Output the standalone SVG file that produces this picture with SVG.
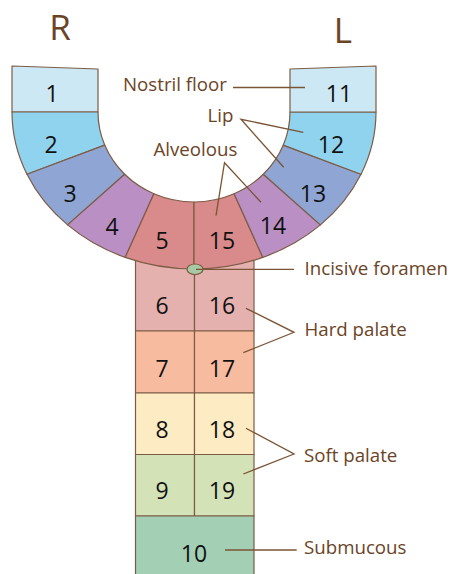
<svg xmlns="http://www.w3.org/2000/svg" width="453" height="574" viewBox="0 0 453 574">
<style>
.seg{stroke:#7d5c46;stroke-width:1.2;stroke-linejoin:round}
.num{font-family:"Open Sans","Liberation Sans",sans-serif;font-size:23px;fill:#111;text-anchor:middle}
.lbl{font-family:"Open Sans","Liberation Sans",sans-serif;font-size:18.7px;fill:#6b4426}
.side{font-family:"Open Sans","Liberation Sans",sans-serif;font-size:35px;fill:#6b4426;text-anchor:middle}
.lead{stroke:#7a5535;stroke-width:1.3;fill:none}
</style>
<rect width="453" height="574" fill="#fff"/>
<text class="side" x="60" y="40">R</text>
<text class="side" x="343" y="43">L</text>

<g id="n6"><rect class="seg" x="135.5" y="250" width="59" height="81" fill="#e5b1ae"/><text class="num" x="162" y="314">6</text></g>
<g id="n16"><rect class="seg" x="194.5" y="250" width="59.5" height="81" fill="#e5b1ae"/><text class="num" x="222" y="314">16</text></g>
<g id="n7"><rect class="seg" x="135.5" y="331" width="59" height="62" fill="#f7bba0"/><text class="num" x="162" y="377">7</text></g>
<g id="n17"><rect class="seg" x="194.5" y="331" width="59.5" height="62" fill="#f7bba0"/><text class="num" x="222" y="377">17</text></g>
<g id="n8"><rect class="seg" x="135.5" y="393" width="59" height="61.5" fill="#fdebc3"/><text class="num" x="162" y="438">8</text></g>
<g id="n18"><rect class="seg" x="194.5" y="393" width="59.5" height="61.5" fill="#fdebc3"/><text class="num" x="222" y="438">18</text></g>
<g id="n9"><rect class="seg" x="135.5" y="454.5" width="59" height="61.5" fill="#d4e3b7"/><text class="num" x="162" y="499">9</text></g>
<g id="n19"><rect class="seg" x="194.5" y="454.5" width="59.5" height="61.5" fill="#d4e3b7"/><text class="num" x="222" y="499">19</text></g>
<g id="n10"><rect class="seg" x="135.5" y="516" width="118.5" height="62" fill="#a3d0b4"/><text class="num" x="194" y="562">10</text></g>

<g id="n1"><path class="seg" d="M12,66 L98,69 L98,112 L12,112 Z" fill="#cce8f4"/><text class="num" x="52" y="102">1</text></g>
<g id="n2"><path class="seg" d="M12,112 L98,112 A96,90 0 0 0 104.7,145.1 L27,174.3 A182,157 0 0 1 12,112 Z" fill="#8fd3ef"/><text class="num" x="51" y="153">2</text></g>
<g id="n3"><path class="seg" d="M27,174.3 L104.7,145.1 A96,90 0 0 0 124.7,174.3 L67.6,224.9 A182,157 0 0 1 27,174.3 Z" fill="#8fa6d4"/><text class="num" x="70" y="202">3</text></g>
<g id="n4"><path class="seg" d="M67.6,224.9 L124.7,174.3 A96,90 0 0 0 153.9,193.8 L125.2,257.4 A182,157 0 0 1 67.6,224.9 Z" fill="#b98fc4"/><text class="num" x="112" y="235">4</text></g>
<g id="n5"><path class="seg" d="M125.2,257.4 L153.9,193.8 A96,90 0 0 0 194,202 L194,269 A182,157 0 0 1 125.2,257.4 Z" fill="#d98a8a"/><text class="num" x="162" y="249">5</text></g>
<g id="n15"><path class="seg" d="M194,202 A96,90 0 0 0 234.1,193.8 L262.8,257.4 A182,157 0 0 1 194,269 Z" fill="#d98a8a"/><text class="num" x="222" y="249">15</text></g>
<g id="n14"><path class="seg" d="M234.1,193.8 A96,90 0 0 0 263.3,174.3 L320.4,224.9 A182,157 0 0 1 262.8,257.4 Z" fill="#b98fc4"/><text class="num" x="273" y="234">14</text></g>
<g id="n13"><path class="seg" d="M263.3,174.3 A96,90 0 0 0 283.3,145.1 L361,174.3 A182,157 0 0 1 320.4,224.9 Z" fill="#8fa6d4"/><text class="num" x="313" y="202">13</text></g>
<g id="n12"><path class="seg" d="M283.3,145.1 A96,90 0 0 0 290,112 L376,112 A182,157 0 0 1 361,174.3 Z" fill="#8fd3ef"/><text class="num" x="331" y="153">12</text></g>
<g id="n11"><path class="seg" d="M290,69 L376,66 L376,112 L290,112 Z" fill="#cce8f4"/><text class="num" x="339" y="102">11</text></g>

<g id="foramen"><ellipse class="seg" cx="195" cy="269.3" rx="8" ry="5.3" fill="#a8c9a5"/></g>

<g id="connectors">
<line class="lead" x1="233" y1="87.5" x2="305" y2="87.5"/>
<polyline class="lead" points="303.3,132.3 241,119.3 283.7,167.3"/>
<polyline class="lead" points="216,215.7 224.5,162.7 261,202.3"/>
<line class="lead" x1="196" y1="269.3" x2="294" y2="269.3"/>
<polyline class="lead" points="246,308.3 294,332.3 243.3,352.7"/>
<polyline class="lead" points="246,428.3 294,454 243.3,474"/>
<line class="lead" x1="225" y1="550" x2="296.7" y2="550"/>
</g>

<g id="labels">
<text class="lbl" x="123" y="91">Nostril floor</text>
<text class="lbl" x="207.5" y="122">Lip</text>
<text class="lbl" x="153.5" y="156">Alveolous</text>
<text class="lbl" x="304.5" y="275">Incisive foramen</text>
<text class="lbl" x="304.5" y="336">Hard palate</text>
<text class="lbl" x="304" y="462">Soft palate</text>
<text class="lbl" x="304" y="554">Submucous</text>
</g>
</svg>
